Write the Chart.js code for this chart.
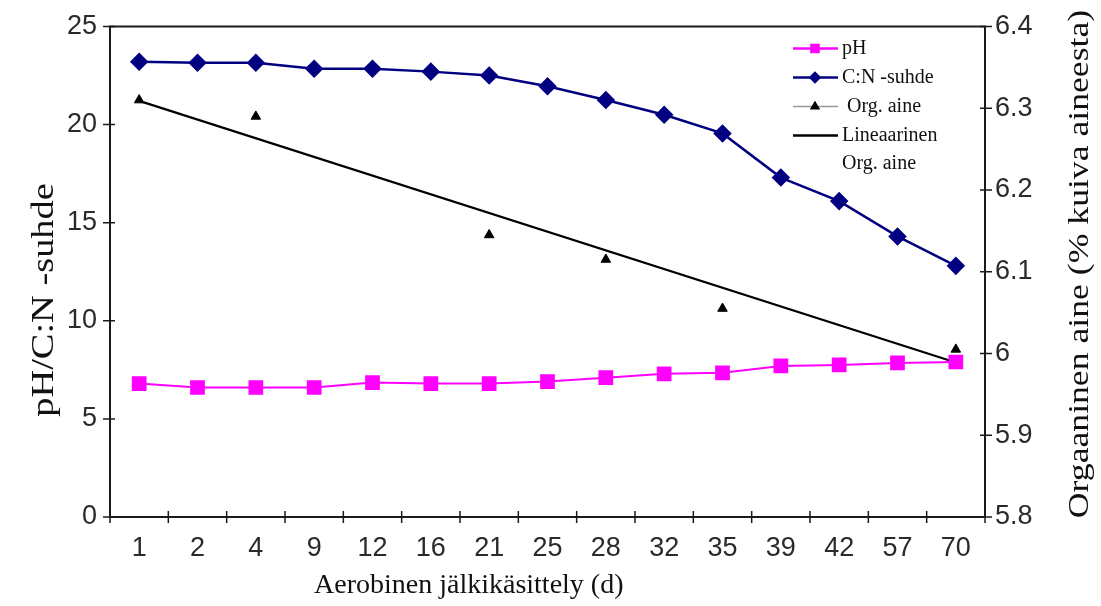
<!DOCTYPE html>
<html>
<head>
<meta charset="utf-8">
<script src="https://cdn.jsdelivr.net/npm/chart.js@4.4.0/dist/chart.umd.min.js"></script>
<style>
  html, body { margin: 0; padding: 0; background: #fff; }
  #wrap { width: 1101px; height: 606px; }
</style>
</head>
<body>
<div id="wrap"><canvas id="chart" width="1101" height="606"></canvas></div>
<script>
// Aerobic post-treatment days
const days = ['1', '2', '4', '9', '12', '16', '21', '25', '28', '32', '35', '39', '42', '57', '70'];

// left axis
const phValues = [6.8, 6.6, 6.6, 6.6, 6.85, 6.8, 6.8, 6.9, 7.1, 7.3, 7.35, 7.7, 7.75, 7.85, 7.9];
const cnValues = [23.2, 23.15, 23.15, 22.85, 22.85, 22.7, 22.5, 21.95, 21.25, 20.5, 19.55, 17.3, 16.1, 14.3, 12.8];

// right axis (only measured days have a value)
const orgValues = [6.31, null, 6.29, null, null, null, 6.145, null, 6.115, null, 6.055, null, null, null, 6.005];
const trendValues = [6.309, null, null, null, null, null, null, null, null, null, null, null, null, null, 5.989];

const leftRange = { min: 0, max: 25, step: 5 };
const rightRange = { min: 5.8, max: 6.4, step: 0.1 };

const serif = "'Liberation Serif', 'Times New Roman', serif";
const sans = "'Liberation Sans', Arial, sans-serif";

function drawTitle(ctx, text, x, y, rot, sx, size) {
    ctx.save();
    ctx.translate(x, y);
    ctx.rotate(rot);
    ctx.scale(sx, 1);
    ctx.font = size + 'px ' + serif;
    ctx.fillStyle = '#111';
    ctx.textAlign = 'center';
    ctx.textBaseline = 'middle';
    ctx.fillText(text, 0, 0);
    ctx.restore();
}

const framePlugin = {
    id: 'frame',
    afterDraw(chart) {
        const ctx = chart.ctx;
        const a = chart.chartArea;
        const xs = chart.scales.x, yl = chart.scales.y, yr = chart.scales.y2;

        ctx.save();
        ctx.strokeStyle = '#1a1a1a';
        ctx.lineWidth = 2;
        ctx.strokeRect(a.left, a.top, a.right - a.left, a.bottom - a.top);

        // tick marks crossing the axes
        ctx.lineWidth = 1.5;
        ctx.beginPath();
        yl.ticks.forEach(t => {
            const py = yl.getPixelForValue(t.value);
            ctx.moveTo(a.left - 7, py); ctx.lineTo(a.left + 5, py);
        });
        yr.ticks.forEach(t => {
            const py = yr.getPixelForValue(t.value);
            ctx.moveTo(a.right - 5, py); ctx.lineTo(a.right + 7, py);
        });
        const n = days.length;
        const half = (xs.getPixelForValue(1) - xs.getPixelForValue(0)) / 2;
        for (let i = 0; i <= n; i++) {
            const px = i < n ? xs.getPixelForValue(i) - half : xs.getPixelForValue(n - 1) + half;
            ctx.moveTo(px, a.bottom - 6); ctx.lineTo(px, a.bottom + 6);
        }
        ctx.stroke();
        ctx.restore();

        // axis titles
        drawTitle(ctx, 'Aerobinen jälkikäsittely (d)', a.left + (a.right - a.left) * 0.41, 586, 0, 1, 28);
        drawTitle(ctx, 'pH/C:N -suhde', 45, 300, -Math.PI / 2, 1.2, 32);
        drawTitle(ctx, 'Orgaaninen aine (% kuiva aineesta)', 1080, 264, -Math.PI / 2, 1.23, 29);

        // legend
        const lx = a.right - 192;
        let ly = a.top + 22;
        chart.data.datasets.forEach(ds => {
            ctx.save();
            ctx.strokeStyle = ds.legendLineColor || ds.borderColor;
            ctx.lineWidth = ds.legendLineWidth || 2.5;
            ctx.beginPath();
            ctx.moveTo(lx, ly); ctx.lineTo(lx + 45, ly);
            ctx.stroke();
            if (ds.legendPoint) {
                ctx.fillStyle = ds.pointBackgroundColor;
                ctx.strokeStyle = ds.pointBorderColor;
                Chart.helpers.drawPoint(ctx, {
                    pointStyle: ds.pointStyle, radius: ds.legendPoint, rotation: 0, borderWidth: 1
                }, lx + 22, ly);
            }
            ctx.fillStyle = '#111';
            ctx.font = '20px ' + serif;
            ctx.textAlign = 'left';
            ctx.textBaseline = 'middle';
            const lines = ds.label.split('\n');
            lines.forEach((line, k) => ctx.fillText(line, lx + 49, ly + k * 28));
            ly += 29 * lines.length;
            ctx.restore();
        });
    }
};

const tickFont = { family: sans, size: 27, lineHeight: 1 };

new Chart(document.getElementById('chart'), {
    type: 'line',
    data: {
        labels: days,
        datasets: [
            {
                label: 'pH',
                data: phValues,
                yAxisID: 'y',
                borderColor: '#ff00ff',
                borderWidth: 2,
                pointStyle: 'rect',
                pointRadius: 9,
                pointBackgroundColor: '#ff00ff',
                pointBorderColor: '#ff00ff',
                legendPoint: 5,
                tension: 0
            },
            {
                label: 'C:N -suhde',
                data: cnValues,
                yAxisID: 'y',
                borderColor: '#000080',
                borderWidth: 2.5,
                pointStyle: 'rectRot',
                pointRadius: 7.5,
                pointBackgroundColor: '#000080',
                pointBorderColor: '#000080',
                legendPoint: 4.5,
                tension: 0
            },
            {
                label: ' Org. aine',
                data: orgValues,
                yAxisID: 'y2',
                showLine: false,
                borderColor: '#000',
                pointStyle: 'triangle',
                pointRadius: 5.5,
                pointBackgroundColor: '#000',
                pointBorderColor: '#000',
                legendLineColor: '#999',
                legendLineWidth: 1.5,
                legendPoint: 4.5
            },
            {
                label: 'Lineaarinen\nOrg. aine',
                data: trendValues,
                yAxisID: 'y2',
                borderColor: '#000',
                borderWidth: 2.2,
                pointRadius: 0,
                spanGaps: true
            }
        ]
    },
    options: {
        responsive: false,
        animation: false,
        layout: { padding: { top: 23, left: 0, right: 0, bottom: 0 } },
        plugins: {
            legend: { display: false },
            tooltip: { enabled: false }
        },
        scales: {
            x: {
                offset: true,
                grid: { display: false, drawTicks: false },
                border: { display: false },
                ticks: { color: '#2a2a2a', font: tickFont, padding: 18, maxRotation: 0 },
                afterFit: s => { s.height = 89; }
            },
            y: {
                position: 'left',
                min: leftRange.min,
                max: leftRange.max,
                grid: { display: false, drawTicks: false },
                border: { display: false },
                ticks: { stepSize: leftRange.step, color: '#2a2a2a', font: tickFont, padding: 13 },
                afterFit: s => { s.width = 110; }
            },
            y2: {
                position: 'right',
                min: rightRange.min,
                max: rightRange.max,
                grid: { display: false, drawTicks: false },
                border: { display: false },
                ticks: {
                    stepSize: rightRange.step,
                    color: '#2a2a2a',
                    font: tickFont,
                    padding: 10,
                    callback: v => String(+v.toFixed(1))
                },
                afterFit: s => { s.width = 116; }
            }
        }
    },
    plugins: [framePlugin]
});
</script>
</body>
</html>
